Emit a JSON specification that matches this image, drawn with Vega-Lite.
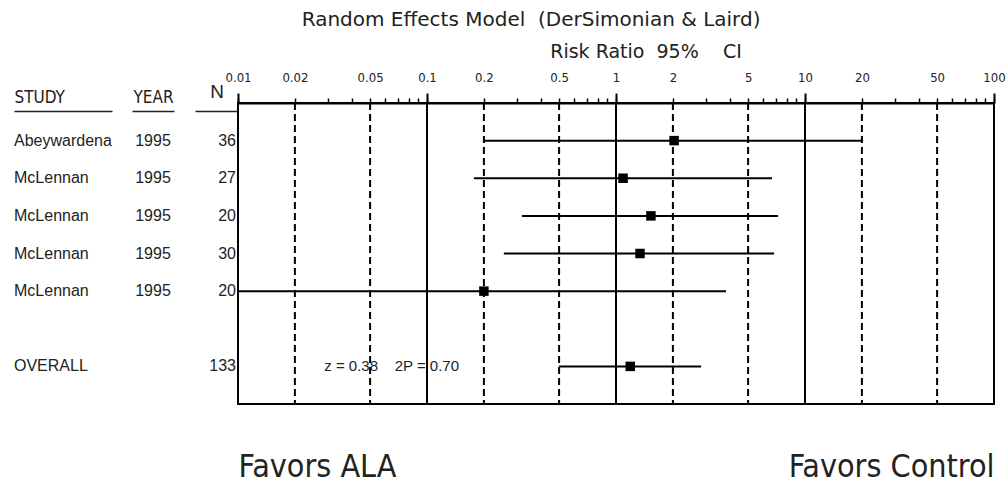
{
  "$schema": "https://vega.github.io/schema/vega-lite/v6.json",
  "background": "white",
  "padding": {"left": 14, "top": 10, "right": 0, "bottom": 0},
  "config": {
    "view": {"stroke": null},
    "font": "Liberation Sans",
    "title": {"color": "#222", "fontWeight": "normal"}
  },
  "title": {
    "text": "Random Effects Model\u00a0 (DerSimonian & Laird)",
    "font": "DejaVu Sans",
    "fontSize": 20,
    "anchor": "middle",
    "dx": 21,
    "offset": 12
  },
  "datasets": {
    "studies": [
      {"row": 1, "study": "Abeywardena", "year": "1995", "n": "36", "rr": 2.03, "lo": 0.2, "hi": 20.3},
      {"row": 2, "study": "McLennan", "year": "1995", "n": "27", "rr": 1.09, "lo": 0.177, "hi": 6.69},
      {"row": 3, "study": "McLennan", "year": "1995", "n": "20", "rr": 1.53, "lo": 0.318, "hi": 7.2},
      {"row": 4, "study": "McLennan", "year": "1995", "n": "30", "rr": 1.34, "lo": 0.255, "hi": 6.86},
      {"row": 5, "study": "McLennan", "year": "1995", "n": "20", "rr": 0.2, "lo": 0.01, "hi": 3.82},
      {"row": 7, "study": "OVERALL", "year": "", "n": "133", "rr": 1.19, "lo": 0.5, "hi": 2.82}
    ],
    "dashed": [{"ref": 0.02}, {"ref": 0.05}, {"ref": 0.2}, {"ref": 0.5}, {"ref": 2}, {"ref": 5}, {"ref": 20}, {"ref": 50}],
    "solid": [{"ref": 0.1}, {"ref": 1}, {"ref": 10}],
    "test": [{"label": "z = 0.38\u00a0\u00a0\u00a0 2P = 0.70"}]
  },
  "bounds": "flush",
  "spacing": 0,
  "hconcat": [
    {
      "width": 118, "height": 301,
      "data": {"name": "studies"},
      "mark": {"type": "text", "align": "left", "baseline": "middle", "fontSize": 16, "color": "#222"},
      "encoding": {
        "x": {"datum": 0, "type": "quantitative", "scale": {"domain": [0, 1], "range": [0, 98]},
          "axis": {"orient": "top", "title": "STUDY", "titleAnchor": "start", "titleAngle": 0, "titleFont": "Liberation Sans Narrow, DejaVu Sans Condensed, sans-serif", "titleFontSize": 17, "titleFontWeight": "normal", "titleColor": "#222", "titlePadding": 5, "labels": false, "ticks": false, "grid": false, "domainColor": "#222", "domainWidth": 1.5, "offset": -8}},
        "y": {"field": "row", "type": "quantitative", "scale": {"domain": [0, 8], "reverse": true}, "axis": null},
        "text": {"field": "study", "type": "nominal"}
      }
    },
    {
      "width": 63, "height": 301,
      "data": {"name": "studies"},
      "mark": {"type": "text", "align": "center", "baseline": "middle", "fontSize": 16, "color": "#222"},
      "encoding": {
        "x": {"datum": 0.5, "type": "quantitative", "scale": {"domain": [0, 1], "range": [0, 42]},
          "axis": {"orient": "top", "title": "YEAR", "titleAnchor": "middle", "titleAngle": 0, "titleFont": "Liberation Sans Narrow, DejaVu Sans Condensed, sans-serif", "titleFontSize": 17, "titleFontWeight": "normal", "titleColor": "#222", "titlePadding": 5, "labels": false, "ticks": false, "grid": false, "domainColor": "#222", "domainWidth": 1.5, "offset": -8}},
        "y": {"field": "row", "type": "quantitative", "scale": {"domain": [0, 8], "reverse": true}, "axis": null},
        "text": {"field": "year", "type": "nominal"}
      }
    },
    {
      "width": 43, "height": 301,
      "data": {"name": "studies"},
      "mark": {"type": "text", "align": "right", "baseline": "middle", "fontSize": 16, "color": "#222", "dx": -2},
      "encoding": {
        "x": {"datum": 1, "type": "quantitative", "scale": {"domain": [0, 1]},
          "axis": {"orient": "top", "title": "N", "titleAnchor": "middle", "titleAngle": 0, "titleFont": "Liberation Sans, sans-serif", "titleFontSize": 19, "titleFontWeight": "normal", "titleColor": "#222", "titlePadding": 10, "labels": false, "ticks": false, "grid": false, "domainColor": "#222", "domainWidth": 1.5, "offset": -8}},
        "y": {"field": "row", "type": "quantitative", "scale": {"domain": [0, 8], "reverse": true}, "axis": null},
        "text": {"field": "n", "type": "nominal"}
      }
    },
    {
      "width": 756, "height": 301,
      "view": {"stroke": "black", "strokeWidth": 2},
      "title": {
        "text": "Risk Ratio\u00a0 95%\u00a0\u00a0\u00a0 CI",
        "font": "DejaVu Sans",
        "fontSize": 19,
        "anchor": "middle",
        "dx": 30,
        "offset": 9
      },
      "resolve": {"axis": {"x": "independent"}},
      "layer": [
        {
          "data": {"name": "dashed"},
          "mark": {"type": "rule", "color": "black", "strokeWidth": 2, "strokeDash": [7, 4]},
          "encoding": {
            "x": {"field": "ref", "type": "quantitative", "scale": {"type": "log", "domain": [0.01, 100], "nice": false},
              "axis": {"orient": "top", "values": [0.01, 0.02, 0.05, 0.1, 0.2, 0.5, 1, 2, 5, 10, 20, 50, 100], "format": "~g", "title": null, "grid": false, "tickSize": 5, "tickWidth": 1.5, "tickColor": "black", "domainColor": "black", "domainWidth": 2, "labelFont": "Liberation Sans Narrow, DejaVu Sans Condensed, sans-serif", "labelFontSize": 13, "labelColor": "#222", "labelPadding": 14, "labelFlush": false, "labelOverlap": false}}
          }
        },
        {
          "data": {"name": "solid"},
          "mark": {"type": "rule", "color": "black", "strokeWidth": 2},
          "encoding": {
            "x": {"field": "ref", "type": "quantitative",
              "axis": {"orient": "top", "values": [0.01, 0.1, 1, 10, 100], "title": null, "grid": false, "labels": false, "domain": false, "tickSize": 10, "tickWidth": 2, "tickColor": "black"}}
          }
        },
        {
          "data": {"name": "studies"},
          "mark": {"type": "rule", "color": "black", "strokeWidth": 2},
          "encoding": {
            "x": {"field": "lo", "type": "quantitative",
              "axis": {"orient": "top", "values": [0.03, 0.04, 0.06, 0.07, 0.08, 0.09, 0.3, 0.4, 0.6, 0.7, 0.8, 0.9, 3, 4, 6, 7, 8, 9, 30, 40, 60, 70, 80, 90], "title": null, "grid": false, "labels": false, "domain": false, "tickSize": 5, "tickWidth": 1.5, "tickColor": "black"}},
            "x2": {"field": "hi"},
            "y": {"field": "row", "type": "quantitative", "scale": {"domain": [0, 8], "reverse": true}, "axis": null}
          }
        },
        {
          "data": {"name": "studies"},
          "mark": {"type": "point", "shape": "square", "filled": true, "size": 90, "color": "black", "opacity": 1},
          "encoding": {
            "x": {"field": "rr", "type": "quantitative",
              "axis": {"orient": "bottom", "values": [0.01, 100], "labelExpr": "datum.value < 1 ? 'Favors ALA' : 'Favors Control'", "labelFlush": true, "labelOverlap": false, "labelLimit": 0, "title": null, "grid": false, "ticks": false, "tickSize": 0, "domain": false, "labelFont": "Liberation Sans Narrow, DejaVu Sans Condensed, sans-serif", "labelFontSize": 32, "labelColor": "#222", "labelPadding": 47}},
            "y": {"field": "row", "type": "quantitative"}
          }
        },
        {
          "data": {"name": "test"},
          "mark": {"type": "text", "align": "center", "baseline": "middle", "fontSize": 15, "color": "#222"},
          "encoding": {
            "x": {"datum": 0.065, "type": "quantitative", "axis": null},
            "y": {"datum": 7, "type": "quantitative"},
            "text": {"field": "label", "type": "nominal"}
          }
        }
      ]
    }
  ]
}
